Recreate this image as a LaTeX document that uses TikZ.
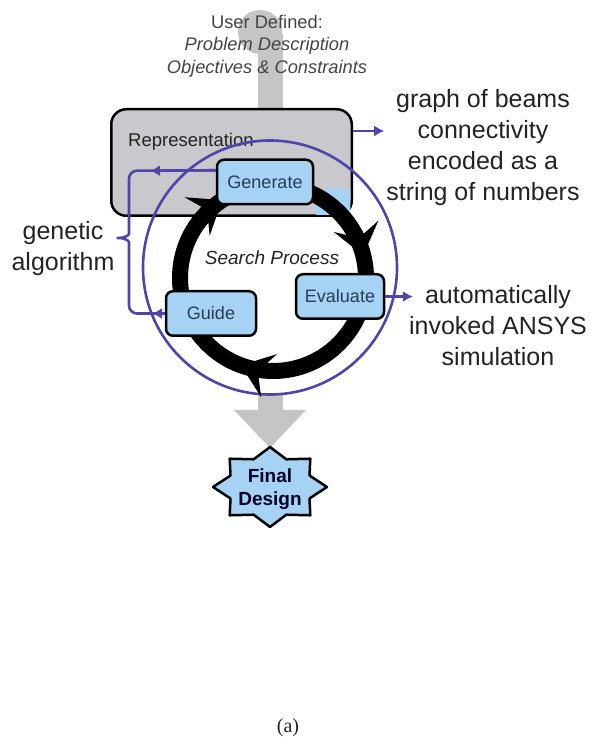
\documentclass[tikz,border=0pt]{standalone}
\usepackage{fontspec}
\setmainfont{Liberation Sans}
\newfontfamily\capfont{Liberation Serif}
\usetikzlibrary{calc}
\usetikzlibrary{arrows.meta}
\usetikzlibrary{decorations.markings}

\definecolor{boxblue}{RGB}{166,210,244}
\definecolor{repgray}{RGB}{201,201,205}
\definecolor{shaftgray}{RGB}{197,197,197}
\definecolor{gapurple}{RGB}{78,68,170}
\definecolor{boxtext}{RGB}{38,60,88}
\definecolor{inktext}{RGB}{35,35,35}

\begin{document}
\begin{tikzpicture}[x=1pt,y=1pt,
                    procbox/.style={draw=black,line width=2.5pt,fill=boxblue,rounded corners=7pt,
                        minimum height=44.5pt,text=boxtext,font=\fontsize{18}{20}\selectfont},
                    repbox/.style={draw=black,line width=2.5pt,fill=repgray,rounded corners=15pt,
                        minimum width=240.5pt,minimum height=106.5pt},
                    galine/.style={draw=gapurple,line width=2.6pt},
                    gaarrow/.style={galine,-{Latex[length=10pt,width=11pt]}},
                    note/.style={align=center,text=inktext,inner sep=2pt,font=\fontsize{25}{31}\selectfont},
                    cyclehead/.tip={Stealth[length=30pt,width=46pt,inset=12pt,line width=0pt]}]
                    \useasboundingbox (0,0) rectangle (591,740);

                    % gray input / output arrow
                    \fill[shaftgray] (260,708) circle (22);
                    \fill[shaftgray] (258,706) rectangle (283,329);
                    \fill[shaftgray] (234,330) -- (306,330) -- (270,292) -- cycle;

                    \fill[white] (270,472.5) circle (127);

                    \node[repbox] (rep) at (231.5,577.5) {};
                    \begin{scope}
                        \clip (112.6,525.6) rectangle (350.4,629.4);
                        \fill[boxblue] (316,524) rectangle (352,551);
                    \end{scope}
                    \node[anchor=base west,inner sep=0pt,text=inktext,font=\fontsize{18.5}{20}\selectfont]
                        (replabel) at (128,593) {Representation};

                    \draw[galine] (270,472.5) circle (127);

                    % search cycle
                    \draw[line width=16pt,
                          decoration={markings,
                              mark=at position 0.211 with {\arrow{cyclehead}},
                              mark=at position 0.556 with {\arrow{cyclehead}},
                              mark=at position 0.908 with {\arrow{cyclehead}}},
                          postaction={decorate}]
                        (273,555) arc[start angle=90,end angle=-270,radius=93];

                    \node[procbox,minimum width=96pt] (gen) at (265,558) {Generate};
                    \node[procbox,minimum width=88pt] (eval) at (340,443.5) {Evaluate};
                    \node[procbox,minimum width=90pt] (guide) at (211,426.5) {Guide};

                    \node[text=inktext,font=\itshape\fontsize{19}{21}\selectfont] (search) at (272,482) {Search Process};

                    % genetic algorithm bracket
                    \coordinate (genL) at ($(gen.north west)!0.25!(gen.south west)$);
                    \draw[galine,rounded corners=8pt] (genL) -- (129,569.25) -- (129,514)
                        .. controls (129,504) and (122,502) .. (112,502)
                        .. controls (122,502) and (129,500) .. (129,490) -- (129,426.5) -- (guide.west);
                    \draw[gaarrow] (genL) -- (150,569.25);
                    \draw[gaarrow] (guide.west) -- (152,426.5);
                    \node[note] (ga) at (63,491) {genetic\\algorithm};

                    \node[note] (graph) at (483,592) {graph of beams\\connectivity\\encoded as a\\string of numbers};
                    \coordinate (repout) at ($(rep.north east)+(0,-23)$);
                    \draw[gaarrow] (repout) -- (repout -| graph.west);

                    \node[note] (ansys) at (498,414) {automatically\\invoked ANSYS\\simulation};
                    \draw[gaarrow] (eval.east) -- ($(eval.east -| ansys.west)+(6,0)$);

                    \node[align=center,text=inktext!85,font=\fontsize{18.3}{22.5}\selectfont] (user) at (267,694)
                        {User Defined:\\\textit{Problem Description}\\\textit{Objectives \& Constraints}};

                    % final design star
                    \coordinate (fdc) at (270,253);
                    \draw[draw=black,line width=2.5pt,fill=boxblue,line join=round,shift={(fdc)}]
                        plot[samples=17,domain=0:16,variable=\k]
                        ({57*(1-0.25*mod(\k,2))*cos(90+22.5*\k)},{40*(1-0.25*mod(\k,2))*sin(90+22.5*\k)}) -- cycle;
                    \node[align=center,text=black!85!blue,font=\bfseries\fontsize{19}{23}\selectfont] (final) at (270,251)
                        {Final\\Design};

                    \node[text=inktext,font=\capfont\fontsize{20}{22}\selectfont] (cap) at (288,12) {(a)};
                \end{tikzpicture}
\end{document}
